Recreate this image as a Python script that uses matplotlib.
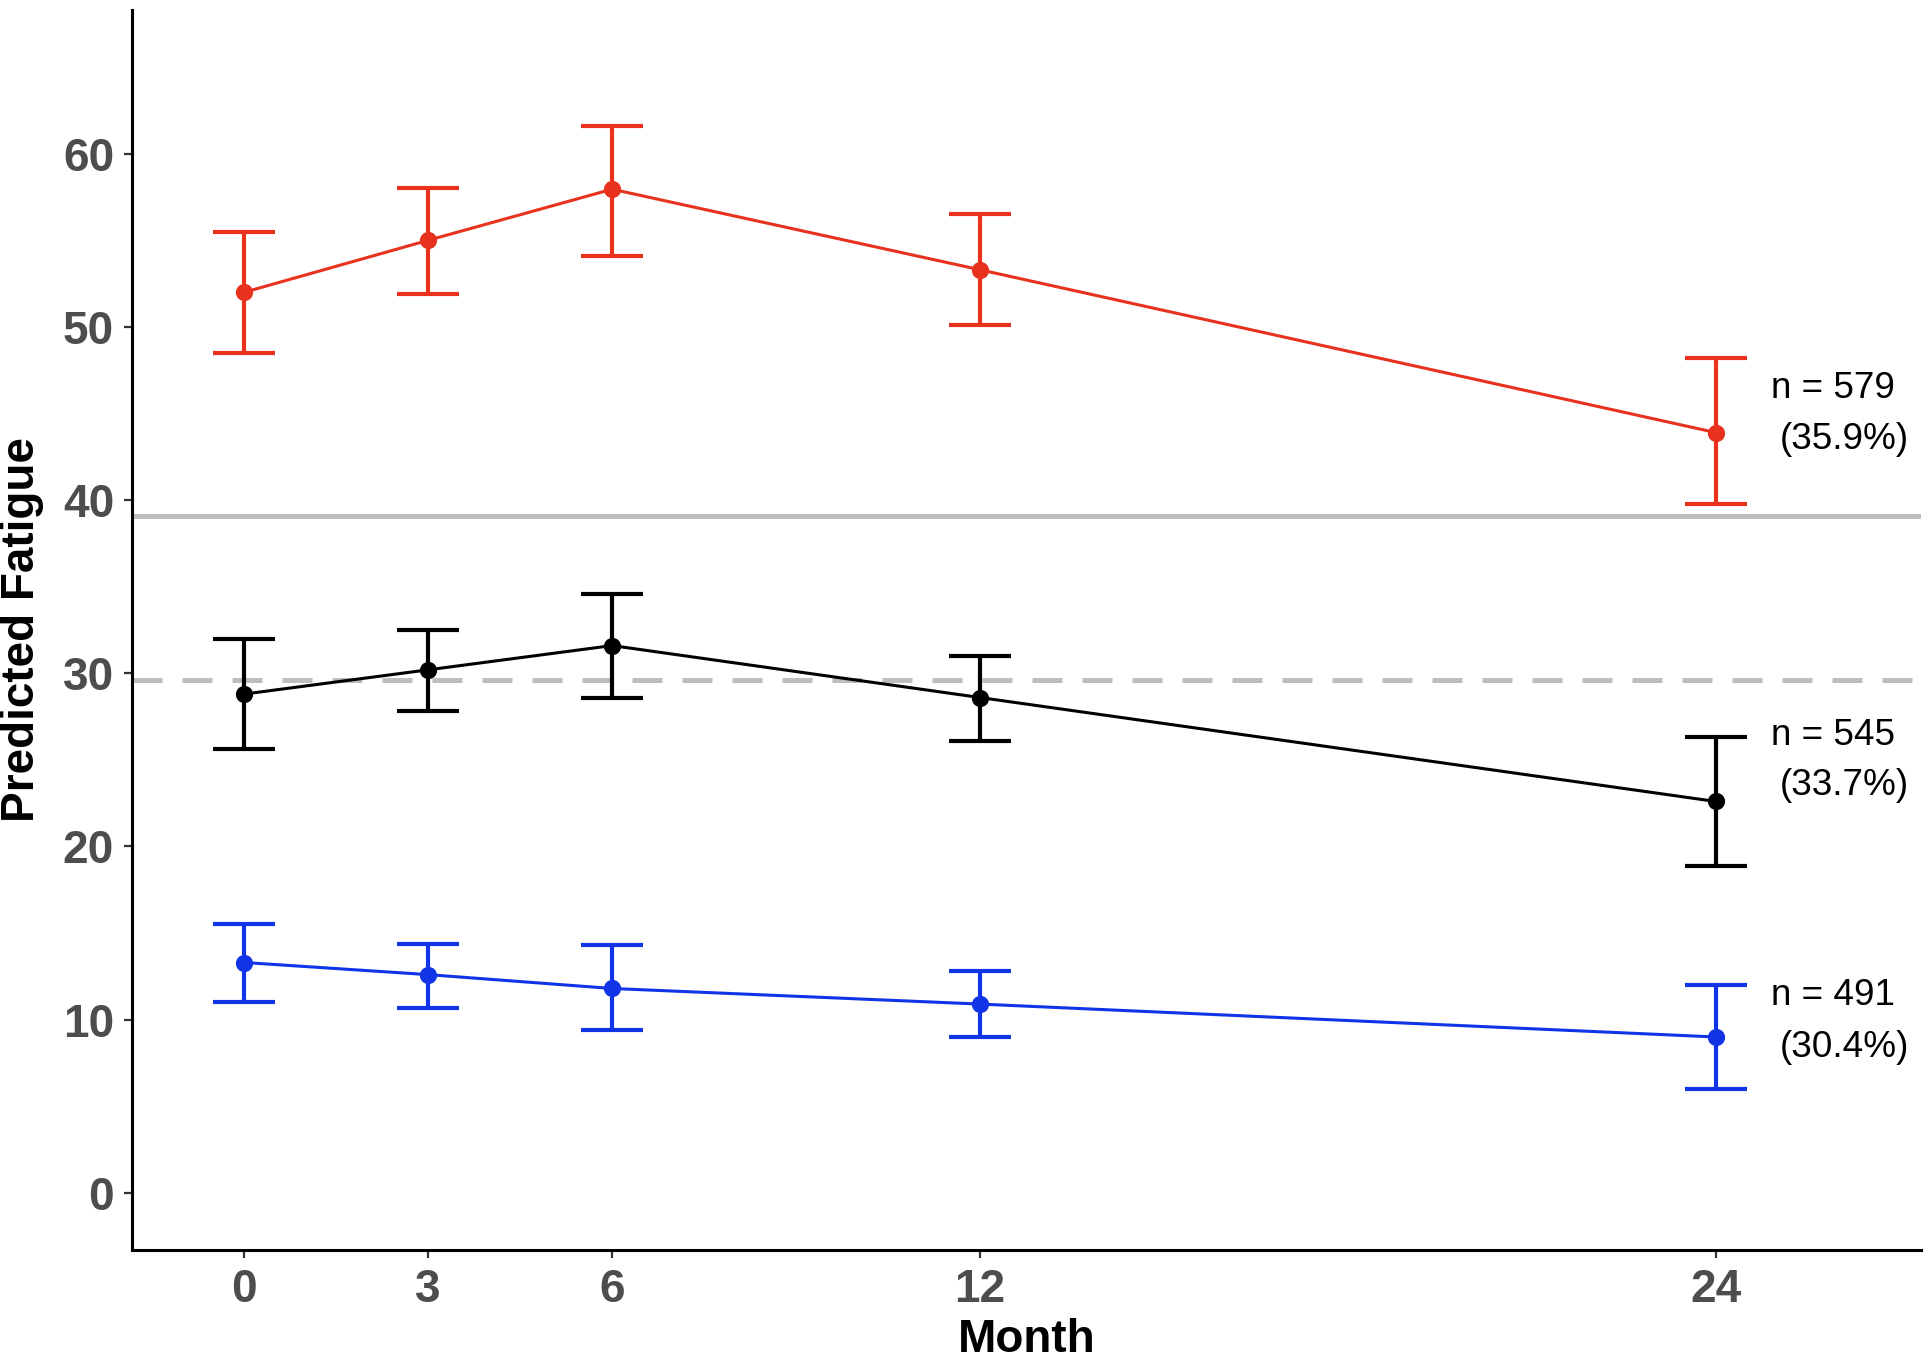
import numpy as np
import matplotlib.pyplot as plt

plt.rcParams['font.family'] = ['Liberation Sans', 'DejaVu Sans']

# data
months = [0, 3, 6, 12, 24]

high_mean = [52.0, 55.0, 57.95, 53.3, 43.9]
high_lo = [48.5, 51.9, 54.1, 50.1, 39.8]
high_hi = [55.5, 58.0, 61.6, 56.5, 48.2]

mid_mean = [28.8, 30.2, 31.6, 28.6, 22.6]
mid_lo = [25.6, 27.8, 28.6, 26.1, 18.9]
mid_hi = [32.0, 32.5, 34.6, 31.0, 26.3]

low_mean = [13.3, 12.6, 11.8, 10.9, 9.0]
low_lo = [11.0, 10.7, 9.4, 9.0, 6.0]
low_hi = [15.55, 14.35, 14.3, 12.8, 12.0]

group_n = ['n = 579', 'n = 545', 'n = 491']
group_pct = ['(35.9%)', '(33.7%)', '(30.4%)']

cutoff_solid = 39.1
cutoff_dashed = 29.6

series = [
    (high_mean, high_lo, high_hi, '#E8321E'),
    (mid_mean, mid_lo, mid_hi, '#000000'),
    (low_mean, low_lo, low_hi, '#1034E6'),
]
label_y = [(46.45, 43.5), (26.4, 23.5), (11.4, 8.4)]

fig = plt.figure(figsize=(9.655, 6.815), dpi=200)
ax = fig.add_axes([0.0684, 0.0829, 0.9264, 0.9098])

ax.axhline(cutoff_solid, color='#bebebe', lw=1.8, zorder=1)
ax.axhline(cutoff_dashed, color='#bebebe', lw=1.8, dashes=(6, 4), zorder=1)

for (mean, lo, hi, col), (ny, py), nt, pt in zip(series, label_y, group_n, group_pct):
    mean = np.array(mean)
    err = [mean - np.array(lo), np.array(hi) - mean]
    ax.errorbar(months, mean, yerr=err, color=col, lw=1.1, elinewidth=1.5,
                capsize=11, capthick=1.5, marker='o', markersize=5.2, zorder=3)
    ax.text(24.9, ny, nt, fontsize=13.3, ha='left', va='center')
    ax.text(25.05, py, pt, fontsize=13.3, ha='left', va='center')

ax.set_xlim(-1.83, 27.35)
ax.set_ylim(-3.3, 68.3)
ax.set_xticks(months)
ax.set_yticks([0, 10, 20, 30, 40, 50, 60])
ax.tick_params(labelsize=16.5, colors='#333333', length=3, width=0.8)
for lab in ax.get_xticklabels() + ax.get_yticklabels():
    lab.set_fontweight('bold')
    lab.set_color('#4d4d4d')

for s in ['top', 'right']:
    ax.spines[s].set_visible(False)
for s in ['left', 'bottom']:
    ax.spines[s].set_linewidth(1.1)

ax.set_xlabel('Month', fontsize=16.5, fontweight='bold')
ax.set_ylabel('Predicted Fatigue', fontsize=16.5, fontweight='bold')
ax.xaxis.set_label_coords(0.5, -0.055)
ax.yaxis.set_label_coords(-0.049, 0.5)

fig.savefig('out.png', dpi=200, facecolor='white')
